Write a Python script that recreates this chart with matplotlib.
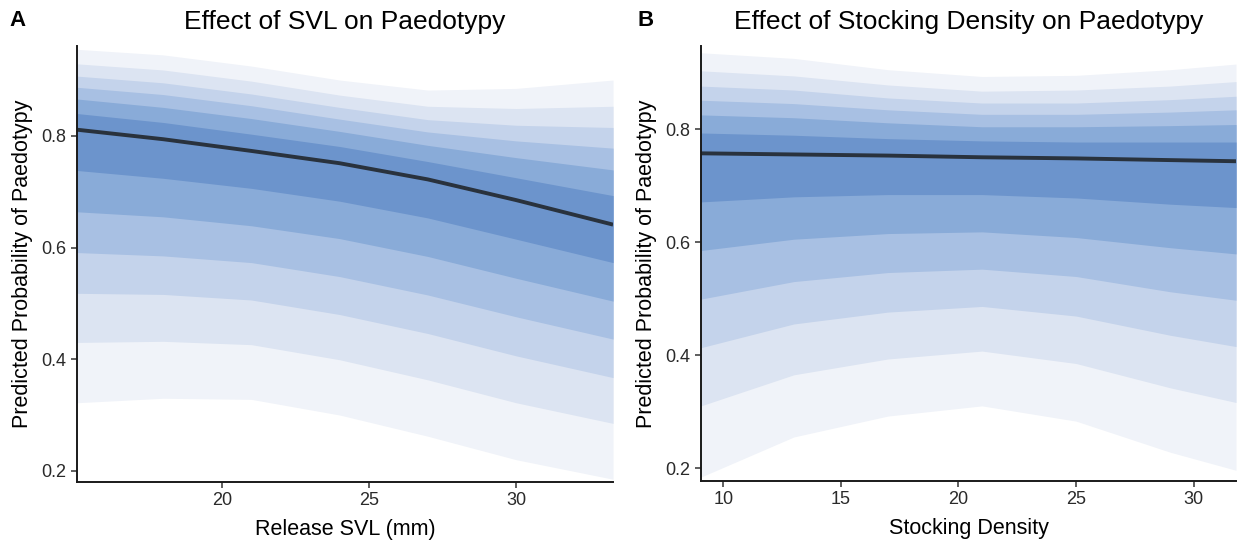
import matplotlib.pyplot as plt

plt.rcParams['font.family'] = ['Liberation Sans', 'DejaVu Sans']

# panel A: effect of release SVL
svl_x = [15.07, 18, 21, 24, 27, 30, 33.3]
svl_median = [0.811, 0.794, 0.773, 0.751, 0.722, 0.685, 0.641]
# interval bounds, inner -> outer
svl_upper = [
    [0.840, 0.824, 0.803, 0.781, 0.754, 0.725, 0.693],
    [0.866, 0.851, 0.831, 0.808, 0.783, 0.761, 0.739],
    [0.887, 0.874, 0.854, 0.830, 0.807, 0.791, 0.778],
    [0.907, 0.895, 0.875, 0.851, 0.829, 0.819, 0.815],
    [0.929, 0.918, 0.898, 0.873, 0.853, 0.849, 0.853],
    [0.955, 0.945, 0.925, 0.900, 0.882, 0.885, 0.900],
]
svl_lower = [
    [0.738, 0.724, 0.706, 0.683, 0.653, 0.615, 0.573],
    [0.664, 0.655, 0.639, 0.616, 0.584, 0.545, 0.504],
    [0.591, 0.585, 0.573, 0.548, 0.515, 0.476, 0.436],
    [0.518, 0.516, 0.506, 0.480, 0.446, 0.406, 0.367],
    [0.430, 0.432, 0.426, 0.399, 0.363, 0.322, 0.285],
    [0.322, 0.330, 0.328, 0.300, 0.262, 0.220, 0.185],
]

# panel B: effect of stocking density
dens_x = [9.05, 13, 17, 21, 25, 29, 31.8]
dens_median = [0.757, 0.755, 0.753, 0.750, 0.748, 0.745, 0.743]
dens_upper = [
    [0.793, 0.789, 0.783, 0.779, 0.777, 0.777, 0.777],
    [0.825, 0.820, 0.811, 0.804, 0.804, 0.806, 0.808],
    [0.851, 0.845, 0.834, 0.826, 0.826, 0.830, 0.834],
    [0.876, 0.869, 0.855, 0.846, 0.846, 0.852, 0.858],
    [0.903, 0.894, 0.878, 0.867, 0.869, 0.876, 0.884],
    [0.935, 0.925, 0.905, 0.893, 0.895, 0.905, 0.915],
]
dens_lower = [
    [0.671, 0.680, 0.684, 0.684, 0.678, 0.667, 0.661],
    [0.585, 0.605, 0.615, 0.618, 0.608, 0.590, 0.579],
    [0.499, 0.530, 0.546, 0.552, 0.539, 0.512, 0.497],
    [0.413, 0.455, 0.476, 0.486, 0.469, 0.435, 0.415],
    [0.310, 0.365, 0.393, 0.407, 0.385, 0.342, 0.316],
    [0.184, 0.255, 0.292, 0.310, 0.283, 0.228, 0.196],
]

band_colors = ['#6c94cc', '#89abd8', '#a8c0e3', '#c4d3eb', '#dce4f2', '#f0f3f9']
line_color = '#29323d'

fig = plt.figure(figsize=(12.38, 5.46), dpi=100)
axA = fig.add_axes([0.0622, 0.1172, 0.4330, 0.7986])
axB = fig.add_axes([0.5662, 0.1190, 0.4322, 0.7968])


def ribbon_panel(ax, x, med, upper, lower, xlim, ylim, xticks, title, xlabel):
    # draw outermost band first so the darker ones sit on top
    for k in range(len(upper) - 1, -1, -1):
        ax.fill_between(x, lower[k], upper[k], color=band_colors[k], lw=0)
    ax.plot(x, med, color=line_color, lw=2.8, solid_capstyle='butt')
    ax.set_xlim(xlim)
    ax.set_ylim(ylim)
    ax.set_xticks(xticks)
    ax.set_yticks([0.2, 0.4, 0.6, 0.8])
    ax.set_yticklabels(['0.2', '0.4', '0.6', '0.8'])
    for s in ['top', 'right']:
        ax.spines[s].set_visible(False)
    for s in ['left', 'bottom']:
        ax.spines[s].set_linewidth(1.4)
        ax.spines[s].set_color('#1a1a1a')
    ax.tick_params(labelsize=13, length=4, width=1.1, colors='#333333',
                   labelcolor='#2a2a2a')
    ax.set_title(title, fontsize=19, pad=12)
    ax.set_xlabel(xlabel, fontsize=15.5, labelpad=7)
    ax.set_ylabel('Predicted Probability of Paedotypy', fontsize=15.5, labelpad=6)


ribbon_panel(axA, svl_x, svl_median, svl_upper, svl_lower, (15.07, 33.3),
             (0.18, 0.961), [20, 25, 30], 'Effect of SVL on Paedotypy',
             'Release SVL (mm)')
ribbon_panel(axB, dens_x, dens_median, dens_upper, dens_lower, (9.05, 31.8),
             (0.177, 0.947), [10, 15, 20, 25, 30],
             'Effect of Stocking Density on Paedotypy', 'Stocking Density')

fig.text(0.008, 0.962, 'A', fontsize=16, fontweight='bold', va='center')
fig.text(0.515, 0.962, 'B', fontsize=16, fontweight='bold', va='center')

fig.savefig('out.png', dpi=100)
